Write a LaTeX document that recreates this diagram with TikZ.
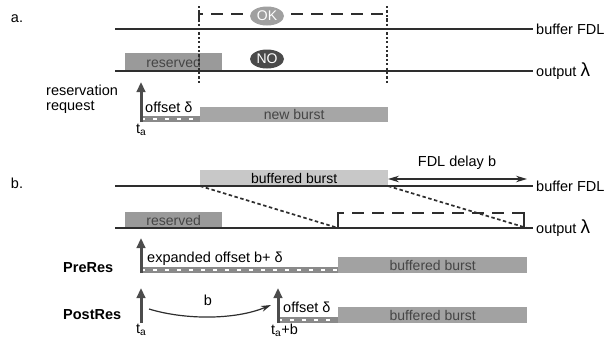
\documentclass[tikz,border=0pt]{standalone}
\usepackage{fontspec}
\setmainfont{Liberation Sans}
\usetikzlibrary{arrows.meta,shapes.geometric}
\definecolor{resgray}{HTML}{9A9A9A}
\definecolor{newgray}{HTML}{A6A6A6}
\definecolor{lightburst}{HTML}{C8C8C8}
\definecolor{midburst}{HTML}{A2A2A2}
\definecolor{stripgray}{HTML}{8A8A8A}
\definecolor{txtgray}{HTML}{454545}
\definecolor{linegray}{HTML}{2E2E2E}
\definecolor{okgray}{HTML}{A0A0A0}
\definecolor{nogray}{HTML}{4A4A4A}
\begin{document}
\begin{tikzpicture}[x=1pt,y=-1pt,
  lbl/.style={font=\fontsize{14.5}{15}\selectfont, inner sep=0pt, text=black},
  boldlbl/.style={lbl, font=\fontsize{14.5}{15}\selectfont\bfseries},
  timeline/.style={draw=linegray, line width=1.4pt},
  burstbox/.style={draw=none, inner sep=0pt, anchor=north west, font=\fontsize{14}{15}\selectfont},
  stripbox/.style={fill=stripgray, draw=none, inner sep=0pt, anchor=north west, minimum height=6pt},
  stripdash/.style={draw=white, line width=1.6pt, dash pattern=on 4pt off 8pt},
  uparrow/.style={draw=black!70, line width=3pt, -{Triangle[length=10pt,width=8.5pt]}},
  dottedv/.style={draw=linegray, line width=1.8pt, dash pattern=on 2.2pt off 2.2pt},
  longdash/.style={draw=linegray, line width=1.4pt, dash pattern=on 12pt off 8pt},
  shortdash/.style={draw=linegray, line width=1.7pt, dash pattern=on 3.5pt off 2.5pt},
  pill/.style={ellipse, draw=none, minimum width=34pt, minimum height=19pt, inner sep=0pt, text=white, font=\fontsize{14}{15}\selectfont},
  thinarrow/.style={draw=linegray, line width=1.2pt, -{Stealth[length=10pt,width=6pt]}},
  bothway/.style={draw=linegray, line width=1.2pt, {Stealth[length=11pt,width=6.5pt]}-{Stealth[length=11pt,width=6.5pt]}}
]
\useasboundingbox (0,0) rectangle (611,343);

% ================= part a =================
\node[lbl] (parta) at (17,19) {a.};

\coordinate (bufA0) at (115,29);
\coordinate (bufA1) at (533,29);
\coordinate (outA0) at (115,71);
\coordinate (outA1) at (533,71);

% reserved box
\node[burstbox, fill=resgray, minimum width=97pt, minimum height=18pt, text=txtgray] (resA) at (125,53) {reserved};

% dashed OK path
\coordinate (okL0) at (199,22);
\coordinate (okL1) at (199,14);
\coordinate (okR1) at (387,14);
\coordinate (okR0) at (387,22);
\draw[longdash] (okL0) -- (okL1) -- (okR1) -- (okR0);

\draw[timeline] (bufA0) -- (bufA1);
\draw[timeline] (outA0) -- (outA1);
\node[lbl, anchor=west] (bufAlbl) at (536,29) {buffer FDL};
\node[lbl, anchor=west] (outAlbl) at (536,71) {output {\fontsize{19}{19}\selectfont λ}};

% dotted verticals
\coordinate (vL0) at (199,6);
\coordinate (vL1) at (199,83);
\coordinate (vR0) at (387,6);
\coordinate (vR1) at (387,83);
\draw[dottedv] (vL0) -- (vL1);
\draw[dottedv] (vR0) -- (vR1);

\node[pill, fill=okgray] (ok) at (267,16) {OK};
\node[pill, fill=nogray] (no) at (267,59) {NO};

\node[lbl, anchor=north west, align=left] (resreq) at (46,85) {reservation\\[0pt]request};

% offset strip and burst
\node[stripbox, minimum width=59pt] (stripA) at (141,116) {};
\draw[stripdash] (stripA.west) -- (stripA.east);
\node[burstbox, fill=newgray, minimum width=188pt, minimum height=15pt, text=txtgray] (newA) at (200,107) {new burst};
\node[lbl, anchor=base west] (offA) at (145,112) {offset δ};

\coordinate (taA0) at (141,122);
\coordinate (taA1) at (141,82);
\draw[uparrow] (taA0) -- (taA1);
\node[lbl, anchor=north west] (taA) at (136,124) {t\textsubscript{a}};

% ================= part b =================
\node[lbl] (partb) at (17,183) {b.};

\coordinate (bufB0) at (115,186);
\coordinate (bufB1) at (533,186);
\coordinate (outB0) at (115,228);
\coordinate (outB1) at (533,228);

\node[burstbox, fill=lightburst, minimum width=188pt, minimum height=16pt, text=black] (bufburst) at (200,170) {buffered burst};
\node[burstbox, fill=resgray, minimum width=97pt, minimum height=16pt, text=txtgray] (resB) at (125,212) {reserved};

\draw[timeline] (bufB0) -- (bufB1);
\draw[timeline] (outB0) -- (outB1);
\node[lbl, anchor=west] (bufBlbl) at (536,186) {buffer FDL};
\node[lbl, anchor=west] (outBlbl) at (536,228) {output {\fontsize{19}{19}\selectfont λ}};

% FDL delay arrow
\coordinate (fdl0) at (388,179);
\coordinate (fdl1) at (527,179);
\draw[bothway] (fdl0) -- (fdl1);
\node[lbl] (fdllbl) at (457,163) {FDL delay b};

% dashed projection lines
\coordinate (pL0) at (200,186);
\coordinate (pL1) at (338,228);
\coordinate (pR0) at (388,186);
\coordinate (pR1) at (527,228);
\draw[shortdash] (pL0) -- (pL1);
\draw[shortdash] (pR0) -- (pR1);

% dashed bracket on output
\coordinate (brL0) at (338,228);
\coordinate (brL1) at (338,213);
\coordinate (brR1) at (524,213);
\coordinate (brR0) at (524,228);
\draw[draw=linegray, line width=1.4pt] (brL0) -- (brL1) -- ++(6,0);
\draw[longdash] (brL1) ++(14,0) coordinate (brLd) -- (brR1);
\draw[draw=linegray, line width=1.4pt] (brR1) ++(-6,0) -- (brR1) -- (brR0);

% PreRes
\node[boldlbl, anchor=west] (preres) at (63,268) {PreRes};
\node[stripbox, minimum width=197pt] (stripPre) at (141,267) {};
\draw[stripdash] (stripPre.west) -- (stripPre.east);
\node[burstbox, fill=midburst, minimum width=189pt, minimum height=16pt, text=txtgray] (burstPre) at (338,257) {buffered burst};
\node[lbl, anchor=base west] (expoff) at (147,262) {expanded offset b+ δ};
\coordinate (pre0) at (141,273);
\coordinate (pre1) at (141,238);
\draw[uparrow] (pre0) -- (pre1);

% PostRes
\node[boldlbl, anchor=west] (postres) at (63,315) {PostRes};
\coordinate (post0) at (141,323);
\coordinate (post1) at (141,288);
\draw[uparrow] (post0) -- (post1);
\node[lbl, anchor=north west] (taB) at (136,324) {t\textsubscript{a}};

\coordinate (cb0) at (149,309);
\coordinate (cb1) at (271,305);
\draw[thinarrow] (cb0) .. controls (185,320) and (235,320) .. (cb1);
\node[lbl] (blbl) at (208,300) {b};

\node[stripbox, minimum width=60pt] (stripPost) at (278,317) {};
\draw[stripdash] (stripPost.west) -- (stripPost.east);
\node[burstbox, fill=midburst, minimum width=189pt, minimum height=16pt, text=txtgray] (burstPost) at (338,307) {buffered burst};
\node[lbl, anchor=base west] (offB) at (283,312) {offset δ};
\coordinate (tb0) at (278,323);
\coordinate (tb1) at (278,288);
\draw[uparrow] (tb0) -- (tb1);
\node[lbl, anchor=north west] (tab) at (271,324) {t\textsubscript{a}+b};
\end{tikzpicture}
\end{document}
